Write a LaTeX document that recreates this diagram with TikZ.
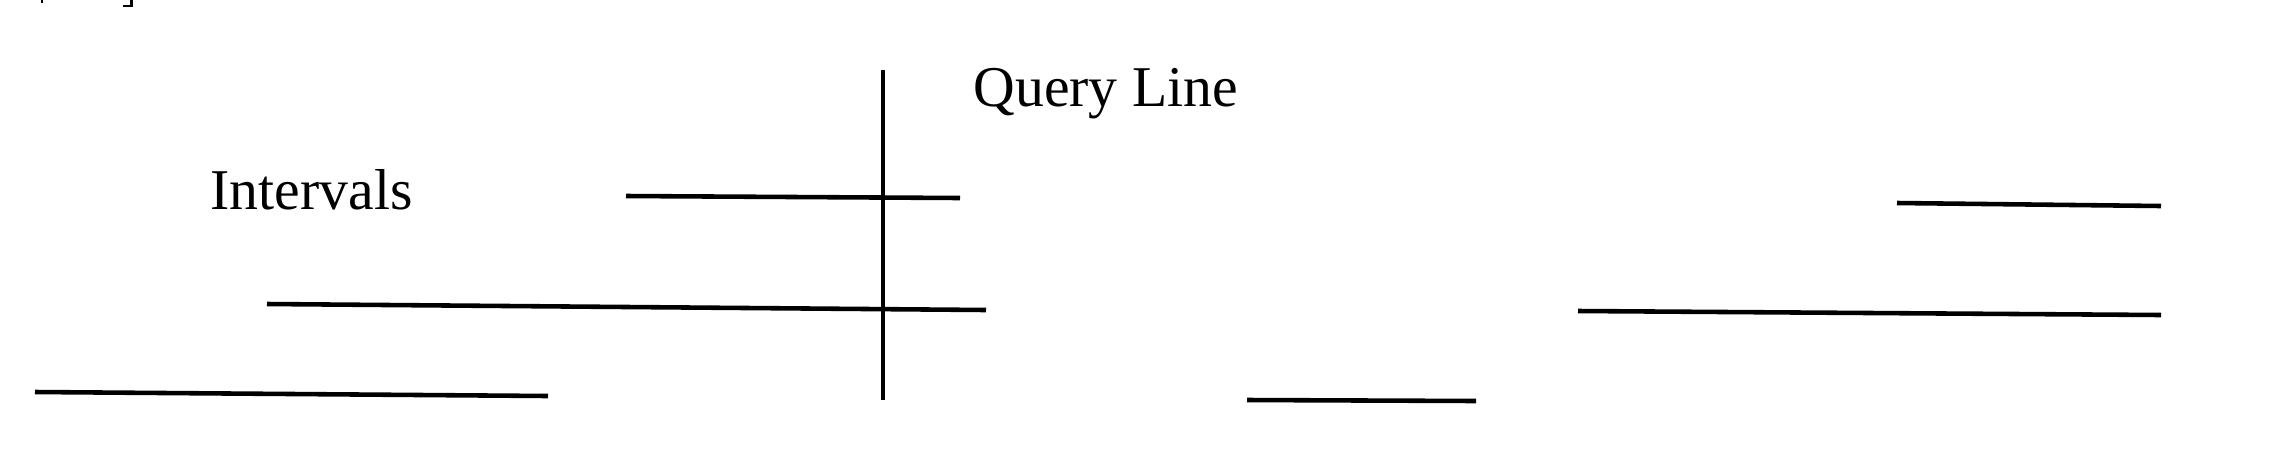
\documentclass[tikz,border=0pt]{standalone}
\usepackage{fontspec}
\setmainfont{Liberation Serif}
\begin{document}
\begin{tikzpicture}[x=0.01cm,y=-0.01cm,
  interval/.style={line width=1.3pt, black},
  qline/.style={line width=1.1pt, black},
  lbl/.style={font=\fontsize{16.4}{19}\selectfont, inner sep=0pt, anchor=base west}]
\useasboundingbox (0,0) rectangle (2274,454);
% scan fragments at top edge
\fill (41,0) rectangle (43,3);
\fill (130,0) rectangle (133,7);
\fill (123,5) rectangle (133,7);
% query line
\coordinate (qt) at (883,70);
\coordinate (qb) at (883,400);
\draw[qline] (qt) -- (qb);
\node[lbl] (ql) at (973,106) {Query Line};
\node[lbl] (iv) at (210,209) {Intervals};
% intervals
\coordinate (a1) at (626,196); \coordinate (a2) at (960,198);
\coordinate (b1) at (267,304); \coordinate (b2) at (986,310);
\coordinate (c1) at (35,392);  \coordinate (c2) at (548,396);
\coordinate (d1) at (1247,400); \coordinate (d2) at (1476,401);
\coordinate (e1) at (1578,311); \coordinate (e2) at (2161,315);
\coordinate (f1) at (1897,203); \coordinate (f2) at (2161,206);
\draw[interval] (a1) -- (a2);
\draw[interval] (b1) -- (b2);
\draw[interval] (c1) -- (c2);
\draw[interval] (d1) -- (d2);
\draw[interval] (e1) -- (e2);
\draw[interval] (f1) -- (f2);
\end{tikzpicture}
\end{document}
